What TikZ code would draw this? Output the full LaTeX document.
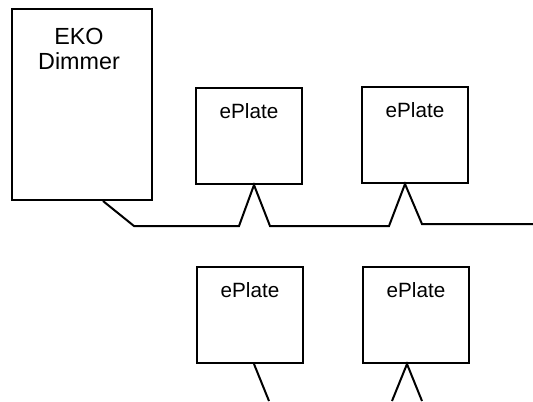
\documentclass[tikz,border=0pt]{standalone}
\usepackage{fontspec}
\setmainfont{Liberation Sans}
\usetikzlibrary{calc}
\begin{document}
\begin{tikzpicture}[x=0.75pt,y=-0.75pt,
  box/.style={draw,line width=1.5pt,rectangle,inner sep=0pt},
  plate/.style={box,minimum width=79.5pt,minimum height=72pt},
  ptext/.style={anchor=base,inner sep=0pt,font=\fontsize{15.5pt}{18pt}\selectfont},
  wire/.style={line width=1.5pt,line join=miter}]
\useasboundingbox (0,0) rectangle (533,401);
% boxes
\node[box,minimum width=105pt,minimum height=143.25pt] (eko) at (82,104.5) {};
\node[plate] (p1) at (249,136) {};
\node[plate] (p2) at (415,135) {};
\node[plate] (p3) at (250,315) {};
\node[plate] (p4) at (416,315) {};
% texts
\node[anchor=base,inner sep=0pt,align=center,font=\fontsize{17.5pt}{18.75pt}\selectfont] (ekot) at (79,69) {EKO\\Dimmer};
\node[ptext] (t1) at (249,118) {ePlate};
\node[ptext] (t2) at (415,117) {ePlate};
\node[ptext] (t3) at (250,297) {ePlate};
\node[ptext] (t4) at (416,297) {ePlate};
% anchor points
\coordinate (e0) at ($(eko.south west)+(92,0)$);
\coordinate (a1) at ($(p1.south)+(5,0)$);
\coordinate (a2) at ($(p2.south)+(-10,0)$);
\coordinate (a3) at ($(p3.south)+(4,0)$);
\coordinate (a4) at ($(p4.south)+(-9,0)$);
\coordinate (rend) at (533,224);
\coordinate (b3) at (269,401);
\coordinate (b4l) at (392,401);
\coordinate (b4r) at (422,401);
% bus
\draw[wire] (e0) -- (134,226) -- (239,226) -- (a1) -- (270,226) -- (389,226) -- (a2) -- (422,224) -- (rend);
\draw[wire] (a3) -- (b3);
\draw[wire] (b4l) -- (a4) -- (b4r);
\end{tikzpicture}
\end{document}
